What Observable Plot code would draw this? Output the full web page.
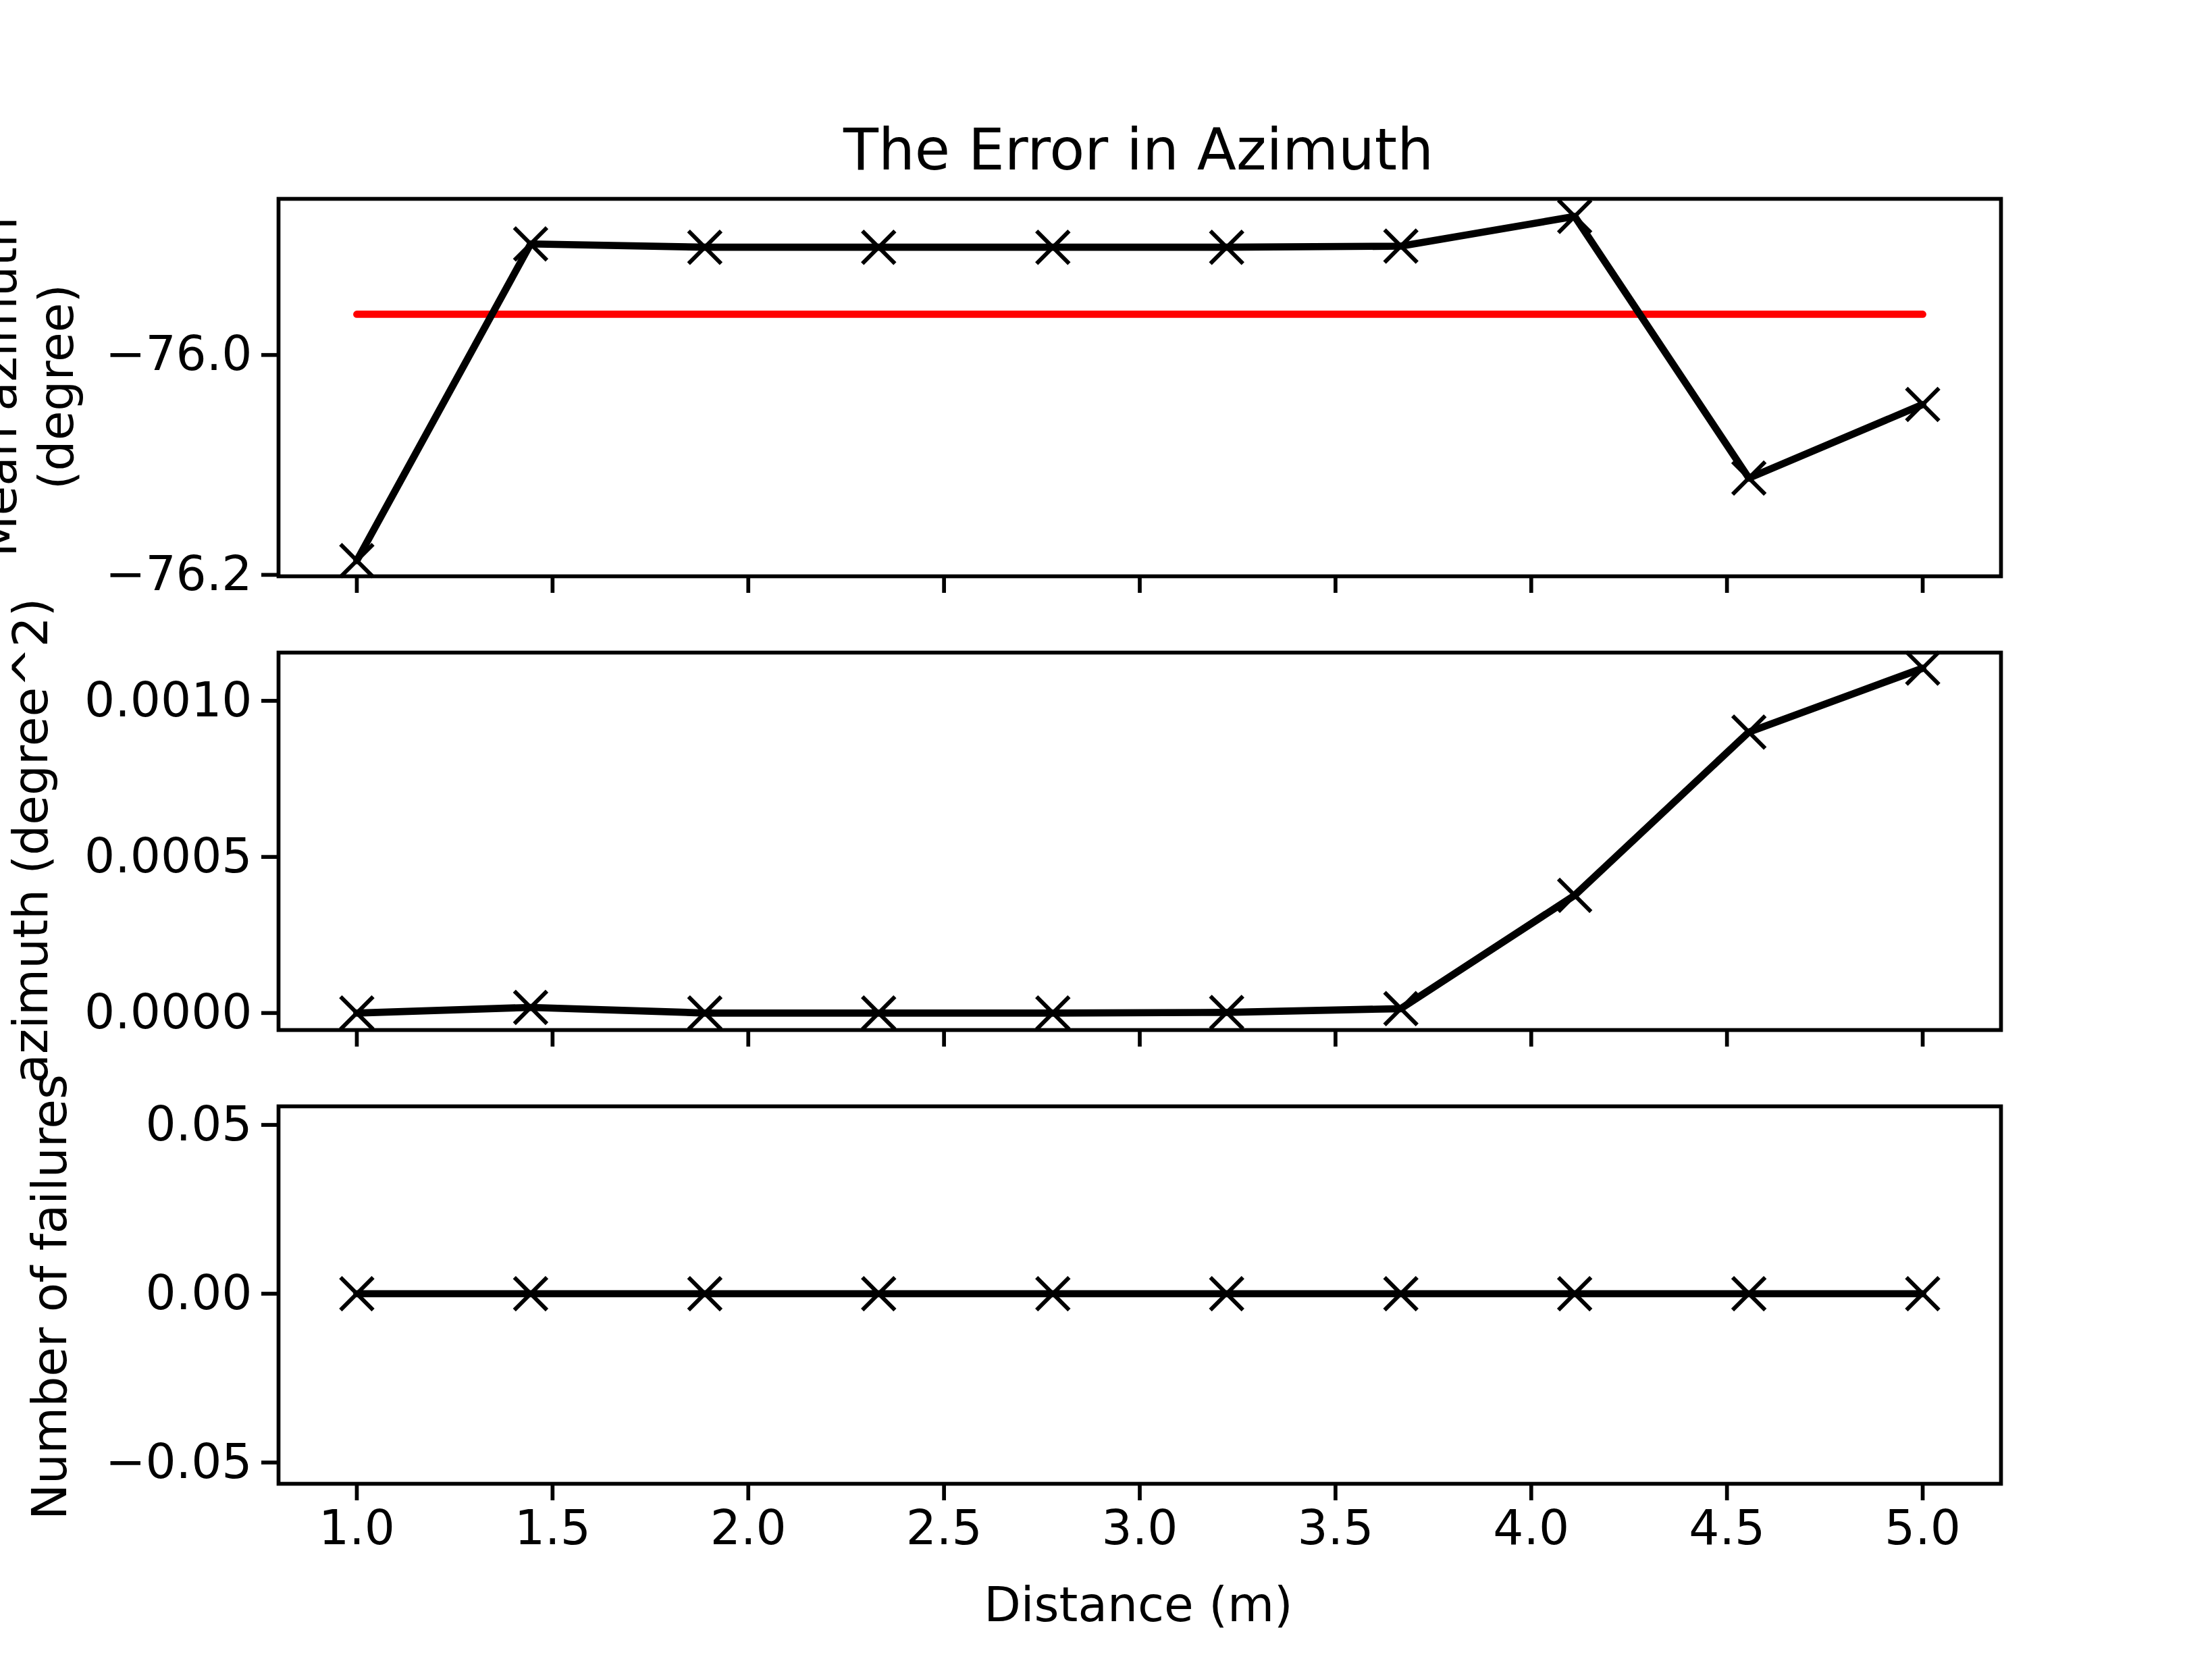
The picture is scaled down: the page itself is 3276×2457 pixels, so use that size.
<!DOCTYPE html>
<html><head><meta charset="utf-8">
<script src="https://cdn.jsdelivr.net/npm/d3@7"></script>
<script src="https://cdn.jsdelivr.net/npm/@observablehq/plot@0.6"></script>
<style>
body{margin:0;background:#fff;font-family:"DejaVu Sans",sans-serif;}
#c{position:relative;width:3276px;height:2457px;overflow:hidden;background:#fff;}
.p{position:absolute;left:0;}
.lab{position:absolute;font-size:71px;white-space:nowrap;text-align:center;line-height:1.18;transform:translate(-50%,-50%) rotate(-90deg);}
</style></head><body><div id="c"></div>
<script>
const distance=[1.0,1.444,1.889,2.333,2.778,3.222,3.667,4.111,4.556,5.0];
const meanAz=[-76.187,-75.899,-75.902,-75.902,-75.902,-75.902,-75.901,-75.874,-76.112,-76.045];
const meanLine=-75.963;
const varAz=[0,0.000018,0,0,0,0.000002,0.000014,0.000377,0.0009,0.0011045];
const failures=[0,0,0,0,0,0,0,0,0,0];
const xTicks=[1.0,1.5,2.0,2.5,3.0,3.5,4.0,4.5,5.0];

const c=document.getElementById("c");
const W=3276, ML=412, MR=313, FH=559, MT=20;
function panel(top,vals,ydom,yticks,yfmt,extra,bottom){
  const MB=bottom?130:40;
  const data=distance.map((d,i)=>({x:d,y:vals[i]}));
  const p=Plot.plot({
    width:W,height:FH+MT+MB,marginLeft:ML,marginRight:MR,marginTop:MT,marginBottom:MB,
    style:{fontSize:"71px",fontFamily:"DejaVu Sans",background:"transparent"},
    x:{domain:[0.8,5.2]},y:{domain:ydom},
    marks:[
      ...extra,
      Plot.line(data,{x:"x",y:"y",stroke:"black",strokeWidth:10.7}),
      Plot.dot(data,{x:"x",y:"y",symbol:"times",r:22,stroke:"black",strokeWidth:6}),
      Plot.axisX({ticks:xTicks,tickSize:25,strokeWidth:5.7,tickPadding:14,tickFormat:bottom?d3.format(".1f"):()=>"",label:null}),
      Plot.axisY({ticks:yticks,tickSize:25,strokeWidth:5.7,tickPadding:14,tickFormat:yfmt,label:null}),
      Plot.frame({stroke:"black",strokeWidth:5.7})
    ]});
  p.classList.add("p");p.style.top=(top-MT)+"px";c.appendChild(p);
}
const minus=f=>d=>f(d).replace("-","\u2212");
panel(294,meanAz,[-76.2013,-75.858],[-76.2,-76.0],minus(d3.format(".1f")),
  [Plot.line([{x:1,y:meanLine},{x:5,y:meanLine}],{x:"x",y:"y",stroke:"red",strokeWidth:10.7})],false);
panel(966,varAz,[-0.0000545,0.0011545],[0,0.0005,0.001],minus(d3.format(".4f")),[],false);
panel(1638,failures,[-0.0563,0.0555],[-0.05,0,0.05],minus(d3.format(".2f")),[],true);

function txt(html,x,y,rot,size){const d=document.createElement("div");d.className="lab";d.innerHTML=html;
  d.style.left=x+"px";d.style.top=y+"px";if(size)d.style.fontSize=size+"px";
  if(!rot)d.style.transform="translate(-50%,-50%)";c.appendChild(d);}
txt("The Error in Azimuth",1686,222,false,85);
txt("Distance (m)",1686,2377,false);
txt("Mean azimuth<br>(degree)",42,573,true);
txt("Variance of<br>azimuth (degree^2)",4,1245,true);
txt("Number of failures",74,1921,true);
</script></body></html>
